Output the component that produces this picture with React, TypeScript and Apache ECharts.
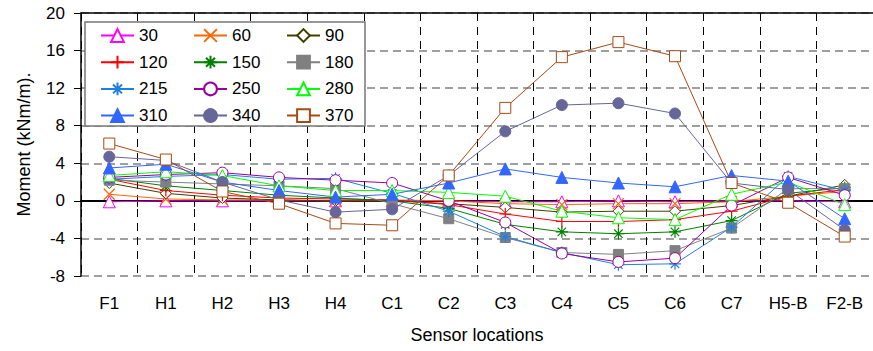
import React, { useEffect, useRef } from "react";
import * as echarts from "echarts";

const categories = ["F1", "H1", "H2", "H3", "H4", "C1", "C2", "C3", "C4", "C5", "C6", "C7", "H5-B", "F2-B"];

const s30 = [-0.1, 0, 0, 0, 0, 0, 0, -0.1, -0.1, 0, -0.1, 0, 0, -0.1];
const s60 = [0.7, 0.2, 0.1, 0.1, 0.0, 0.1, 0.0, -0.3, -0.4, -0.3, -0.3, -0.1, 0.5, 1.0];
const s90 = [1.9, 0.8, 0.3, 0.1, 0.0, 0.0, -0.3, -0.7, -1.2, -1.1, -1.1, -0.5, 0.5, 1.7];
const s120 = [2.3, 1.1, 0.6, 0.3, 0.2, 0.1, -0.4, -1.4, -2.2, -2.2, -2.0, -1.1, 0.5, 1.2];
const s150 = [2.4, 1.6, 1.1, 0.6, 0.3, 0.0, -0.8, -2.5, -3.3, -3.5, -3.3, -2.1, 0.8, 1.4];
const s180 = [2.2, 2.0, 1.8, 1.6, 1.3, -0.3, -1.9, -3.9, -5.5, -5.7, -5.3, -2.9, 1.3, 1.3];
const s215 = [2.3, 2.6, 2.8, 2.3, 2.4, 0.8, -1.1, -3.8, -5.5, -6.8, -6.7, -2.8, 2.6, 1.1];
const s250 = [2.5, 2.8, 3.0, 2.5, 2.2, 1.9, 0.0, -2.3, -5.6, -6.5, -6.1, -0.5, 2.5, 0.6];
const s280 = [2.7, 3.1, 2.7, 1.6, 1.1, 1.1, 0.9, 0.5, -1.1, -1.8, -2.0, 0.7, 2.0, -0.4];
const s310 = [3.5, 3.9, 2.0, 1.1, 0.4, 0.7, 1.9, 3.4, 2.5, 1.9, 1.5, 2.7, 2.1, -1.9];
const s340 = [4.7, 4.3, 2.0, 0.1, -1.2, -0.9, 2.7, 7.4, 10.2, 10.4, 9.3, 1.9, 1.2, -3.1];
const s370 = [6.1, 4.4, 1.0, -0.3, -2.4, -2.6, 2.7, 9.9, 15.3, 16.9, 15.4, 1.9, -0.2, -3.8];

const yTicks = { min: -8, max: 20, interval: 4 };

const X_PATH = "path://M0,0L10,10M10,0L0,10";
const PLUS_PATH = "path://M5,0L5,10M0,5L10,5";
const AST_PATH = "path://M5,0L5,10M0,5L10,5M1.5,1.5L8.5,8.5M8.5,1.5L1.5,8.5";

type Def = { name: string; data: number[]; color: string; symbol: string; hollow?: boolean; stroke?: boolean; size: number };

const defs: Def[] = [
  { name: "30", data: s30, color: "#ff00ff", symbol: "triangle", hollow: true, size: 12 },
  { name: "60", data: s60, color: "#ff6600", symbol: X_PATH, stroke: true, size: 11 },
  { name: "90", data: s90, color: "#404000", symbol: "diamond", hollow: true, size: 11 },
  { name: "120", data: s120, color: "#ff0000", symbol: PLUS_PATH, stroke: true, size: 12 },
  { name: "150", data: s150, color: "#008000", symbol: AST_PATH, stroke: true, size: 12 },
  { name: "180", data: s180, color: "#808080", symbol: "rect", size: 10 },
  { name: "215", data: s215, color: "#2080e0", symbol: AST_PATH, stroke: true, size: 12 },
  { name: "250", data: s250, color: "#990099", symbol: "circle", hollow: true, size: 11 },
  { name: "280", data: s280, color: "#00ff00", symbol: "triangle", hollow: true, size: 12 },
  { name: "310", data: s310, color: "#3366ff", symbol: "triangle", size: 12 },
  { name: "340", data: s340, color: "#666699", symbol: "circle", size: 11 },
  { name: "370", data: s370, color: "#a84a14", symbol: "rect", hollow: true, size: 11 },
];

const FONT = "'Liberation Sans', Arial, sans-serif";

export default function App() {
  const ref = useRef<HTMLDivElement>(null);
  useEffect(() => {
    if (!ref.current) return;
    const chart = echarts.init(ref.current, undefined, { renderer: "svg" });
    const series = defs.map((d) => ({
      name: d.name,
      type: "line",
      data: d.data,
      symbol: d.symbol,
      symbolSize: d.size,
      showAllSymbol: true,
      lineStyle: { color: d.color, width: 1 },
      itemStyle: {
        color: d.hollow ? "#ffffff" : d.color,
        borderColor: d.color,
        borderWidth: d.stroke ? 1.2 : 1,
      },
      emphasis: { disabled: true },
    }));
    const legendCol = (names: string[], left: number) => ({
      orient: "vertical",
      left,
      top: 27,
      padding: 0,
      itemWidth: 33,
      itemHeight: 16,
      itemGap: 9.7,
      selectedMode: false,
      z: 10,
      textStyle: { fontSize: 17, color: "#000", fontFamily: FONT },
      data: names,
    });
    chart.setOption({
      animation: false,
      textStyle: { fontFamily: FONT },
      grid: { left: 81, right: -7, top: 13, bottom: 75, containLabel: false },
      legend: [
        legendCol(["30", "120", "215", "310"], 100),
        legendCol(["60", "150", "250", "340"], 193),
        legendCol(["90", "180", "280", "370"], 286),
      ],
      graphic: [
        {
          type: "rect",
          z: 8,
          shape: { x: 85, y: 22, width: 280, height: 104 },
          style: { fill: "#ffffff", stroke: "#777777", lineWidth: 1.5 },
        },
      ],
      xAxis: [
        {
          type: "category",
          data: categories,
          boundaryGap: true,
          axisLine: { show: true, lineStyle: { color: "#000", width: 2 } },
          axisTick: { show: true, length: 6, inside: false, lineStyle: { color: "#000", width: 1 } },
          axisLabel: { fontSize: 17, color: "#000", margin: 19, fontFamily: FONT },
          splitLine: { show: true, lineStyle: { color: "#000", width: 1, type: [8, 6] } },
          name: "Sensor locations",
          nameLocation: "middle",
          nameGap: 50,
          nameTextStyle: { fontSize: 18, color: "#000", fontFamily: FONT },
        },
        {
          type: "category",
          data: categories,
          position: "top",
          boundaryGap: true,
          axisLine: { show: true, lineStyle: { color: "#000", width: 1.5 } },
          axisTick: { show: false },
          axisLabel: { show: false },
          splitLine: { show: false },
        },
      ],
      yAxis: {
        type: "value",
        min: yTicks.min,
        max: yTicks.max,
        interval: yTicks.interval,
        axisLine: { show: true, lineStyle: { color: "#000", width: 1.5 } },
        axisTick: { show: true, length: 7, inside: false, lineStyle: { color: "#000", width: 1 } },
        axisLabel: { fontSize: 17, color: "#000", margin: 16, fontFamily: FONT },
        splitLine: { show: true, lineStyle: { color: "#808080", width: 1.5, type: [8, 5] } },
        name: "Moment (kNm/m).",
        nameLocation: "middle",
        nameGap: 48,
        nameTextStyle: { fontSize: 18, color: "#000", fontFamily: FONT },
      },
      series,
    });
    return () => chart.dispose();
  }, []);
  return (
    <div
      ref={ref}
      style={{ position: "fixed", left: 0, top: 0, width: 873, height: 351, background: "#fff" }}
    />
  );
}
